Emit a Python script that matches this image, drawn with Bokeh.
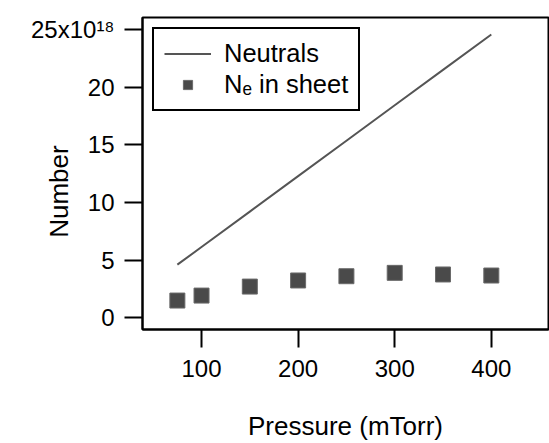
from bokeh.plotting import figure
from bokeh.models import FixedTicker, Range1d, Legend, LegendItem
from bokeh.embed import file_html
from bokeh.resources import INLINE

pressure = [75, 100, 150, 200, 250, 300, 350, 400]
neutrals = [4.61, 6.14, 9.21, 12.29, 15.36, 18.43, 21.50, 24.57]
ne_sheet = [1.50, 1.93, 2.71, 3.24, 3.61, 3.90, 3.76, 3.67]
x_ticks = [100, 200, 300, 400]
y_ticks = [0, 5, 10, 15, 20, 25]
y_tick_labels = {25: "25x10\u00b9\u2078"}

FONT = "Liberation Sans"

p = figure(width=549, height=443, output_backend="svg", toolbar_location=None,
           x_range=Range1d(38.9, 459.2), y_range=Range1d(-1.01, 26.04),
           min_border_left=142, min_border_right=1, min_border_top=17, min_border_bottom=114)
p.background_fill_color = "white"
p.border_fill_color = "white"
p.outline_line_color = "black"
p.outline_line_width = 2
p.grid.visible = False

for ax in (p.xaxis[0], p.yaxis[0]):
    ax.axis_line_width = 2
    ax.axis_line_color = "black"
    ax.major_tick_line_width = 2
    ax.major_tick_line_color = "black"
    ax.major_tick_out = 18
    ax.major_tick_in = 0
    ax.minor_tick_line_color = None
    ax.major_label_text_font = FONT
    ax.major_label_text_font_size = "24px"
    ax.major_label_text_color = "black"
    ax.axis_label_text_font = FONT
    ax.axis_label_text_font_size = "26px"
    ax.axis_label_text_font_style = "normal"
    ax.axis_label_text_color = "black"

p.xaxis[0].ticker = FixedTicker(ticks=x_ticks)
p.yaxis[0].ticker = FixedTicker(ticks=y_ticks)
p.yaxis[0].major_label_overrides = y_tick_labels
p.xaxis[0].major_label_standoff = 12
p.yaxis[0].major_label_standoff = 10
p.xaxis[0].axis_label = "Pressure (mTorr)"
p.xaxis[0].axis_label_standoff = 31
p.yaxis[0].axis_label = "Number" + "\u00a0" * 5
p.yaxis[0].axis_label_standoff = -46

r_line = p.line(pressure, neutrals, line_color="#555555", line_width=2)
r_sq = p.scatter(pressure, ne_sheet, marker="square", size=15,
                 fill_color="#4a4a4a", line_color="#6a6a6a", line_width=1)

legend = Legend(items=[LegendItem(label="Neutrals", renderers=[r_line]),
                       LegendItem(label="N\u2091 in sheet", renderers=[r_sq])],
                location="top_left", margin=10, padding=10, spacing=2,
                glyph_width=47, glyph_height=23, label_height=23, label_standoff=13,
                label_text_font=FONT, label_text_font_size="25.5px", label_text_color="black",
                border_line_color="black", border_line_width=2, border_line_alpha=1.0,
                background_fill_color="white", background_fill_alpha=1.0)
p.add_layout(legend)

open("out.html", "w").write(file_html(p, INLINE))
